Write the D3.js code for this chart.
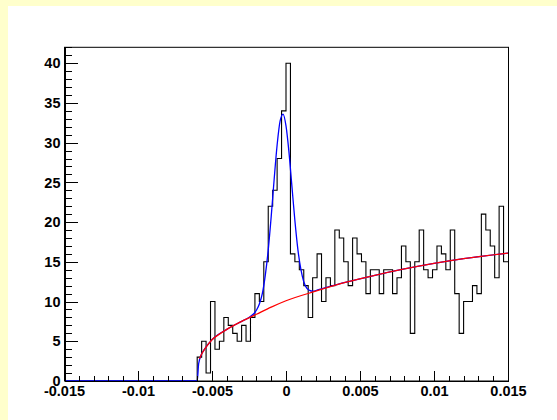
<!DOCTYPE html>
<html>
<head>
    <meta charset="utf-8" />
    <title></title>
    <script src="https://cdn.jsdelivr.net/npm/d3@7"></script>
    <style type="text/css">
        body { margin: 0; background: #ffffcc; }
        .axis text { font-family: "Liberation Sans", Arial, sans-serif; font-weight: bold; font-size: 14.5px; fill: #000; }
        .axis path, .axis line { stroke: #000; shape-rendering: crispEdges; }
    </style>
</head>
<body>
<div id="Tu"></div>
<script type="text/javascript">
    // histogram: 100 bins from -0.015 to 0.015
    var xMin = -0.015, xMax = 0.015, nBins = 100;
    var counts = [
        0, 0, 0, 0, 0, 0, 0, 0, 0, 0,
        0, 0, 0, 0, 0, 0, 0, 0, 0, 0,
        0, 0, 0, 0, 0, 0, 0, 0, 0, 0,
        3, 5, 1, 10, 4, 5, 8, 7, 6, 5,
        7, 5, 8, 11, 10, 15, 22, 24, 28, 34,
        40, 16, 15, 14, 12, 8, 13, 16, 10, 13,
        12, 19, 18, 15, 12, 18, 16, 15, 11, 14,
        14, 11, 14, 14, 11, 13, 17, 15, 6, 15,
        19, 14, 13, 14, 17, 16, 14, 19, 11, 6,
        10, 10, 12, 11, 21, 19, 17, 13, 22, 15
    ];

    // total fit (blue)
    var fitX = [-0.015, -0.006, -0.0059, -0.0057, -0.0055, -0.005, -0.004, -0.003, -0.0025, -0.002, -0.0018, -0.0016,
        -0.0014, -0.0012, -0.001, -0.0008, -0.0006, -0.0004, -0.0002, 0, 0.0002, 0.0004, 0.0006, 0.0008,
        0.001, 0.0012, 0.0014, 0.0016, 0.0018, 0.0022, 0.004, 0.006, 0.008, 0.01, 0.012, 0.015];
    var fitY = [0, 0, 2.2, 3.4, 4.0, 5.2, 6.5, 7.5, 8.0, 8.9, 9.7, 11.0,
        13.3, 16.5, 20.7, 25.4, 29.7, 32.7, 33.6, 32.1, 28.8, 24.5, 20.2, 16.6,
        14.1, 12.5, 11.7, 11.4, 11.3, 11.5, 12.4, 13.3, 14.1, 14.8, 15.4, 16.1];

    // background (red)
    var bgX = [-0.00585, -0.0057, -0.0055, -0.005, -0.0045, -0.004, -0.003, -0.002, -0.001, 0,
        0.002, 0.004, 0.006, 0.008, 0.01, 0.012, 0.015];
    var bgY = [2.8, 3.4, 4.0, 5.2, 5.9, 6.5, 7.5, 8.4, 9.3, 10.1,
        11.3, 12.4, 13.3, 14.1, 14.8, 15.4, 16.1];

    var xTicks = [-0.015, -0.01, -0.005, 0, 0.005, 0.01, 0.015];
    var xTickLabels = ["-0.015", "-0.01", "-0.005", "0", "0.005", "0.01", "0.015"];
    var yTicks = [0, 5, 10, 15, 20, 25, 30, 35, 40];

    var width = 557, height = 420;
    var frame = { left: 64, right: 508, top: 47.3, bottom: 381 };

    var svg = d3.select("#Tu").append("svg")
        .attr("width", width)
        .attr("height", height)
        .style("display", "block");

    // pad
    svg.append("rect").attr("x", 0).attr("y", 0).attr("width", width).attr("height", height).attr("fill", "#ffffcc");
    svg.append("rect").attr("x", 8).attr("y", 6).attr("width", width - 8).attr("height", height - 6).attr("fill", "#fff");

    var x = d3.scaleLinear().domain([xMin, xMax]).range([frame.left, frame.right]);
    var y = d3.scaleLinear().domain([0, 42]).range([frame.bottom, frame.top]);

    svg.append("defs").append("clipPath").attr("id", "clip")
        .append("rect")
        .attr("x", frame.left).attr("y", frame.top)
        .attr("width", frame.right - frame.left).attr("height", frame.bottom - frame.top);

    // frame
    svg.append("rect")
        .attr("x", frame.left + 0.5).attr("y", frame.top)
        .attr("width", frame.right - frame.left).attr("height", frame.bottom - frame.top)
        .attr("fill", "none").attr("stroke", "#000").attr("stroke-width", 1);

    // histogram outline
    var binW = (xMax - xMin) / nBins;
    var steps = counts.map(function (c, i) { return [xMin + i * binW, c]; });
    steps.push([xMax, counts[nBins - 1]]);
    var stepLine = d3.line()
        .x(function (d) { return x(d[0]); })
        .y(function (d) { return y(d[1]); })
        .curve(d3.curveStepAfter);

    var plot = svg.append("g").attr("clip-path", "url(#clip)");
    plot.append("path")
        .datum(steps)
        .attr("d", stepLine)
        .attr("fill", "none")
        .attr("stroke", "#000")
        .attr("stroke-width", 1.1);

    var curve = d3.line()
        .x(function (d) { return x(d[0]); })
        .y(function (d) { return y(d[1]); })
        .curve(d3.curveMonotoneX);

    plot.append("path")
        .datum(d3.zip(fitX, fitY))
        .attr("d", curve)
        .attr("fill", "none")
        .attr("stroke", "#0000ff")
        .attr("stroke-width", 1.3);

    plot.append("path")
        .datum(d3.zip(bgX, bgY))
        .attr("d", curve)
        .attr("fill", "none")
        .attr("stroke", "#ff0000")
        .attr("stroke-width", 1.3);

    // x axis
    var xMinor = d3.range(-15, 16).map(function (i) { return i * 0.001; });
    svg.append("g").attr("class", "axis")
        .attr("transform", "translate(0," + frame.bottom + ")")
        .call(d3.axisBottom(x).tickValues(xMinor).tickSize(-5).tickSizeOuter(0).tickFormat(""));
    svg.append("g").attr("class", "axis")
        .attr("transform", "translate(0," + frame.bottom + ")")
        .call(d3.axisBottom(x).tickValues(xTicks).tickSize(-10).tickSizeOuter(0).tickPadding(5)
            .tickFormat(function (d, i) { return xTickLabels[i]; }));

    // y axis
    var yMinor = d3.range(0, 43);
    svg.append("g").attr("class", "axis")
        .attr("transform", "translate(" + (frame.left + 0.5) + ",0)")
        .call(d3.axisLeft(y).tickValues(yMinor).tickSize(-7).tickSizeOuter(0).tickFormat(""));
    svg.append("g").attr("class", "axis")
        .attr("transform", "translate(" + (frame.left + 0.5) + ",0)")
        .call(d3.axisLeft(y).tickValues(yTicks).tickSize(-13).tickSizeOuter(0).tickPadding(4));
</script>
</body>
</html>
